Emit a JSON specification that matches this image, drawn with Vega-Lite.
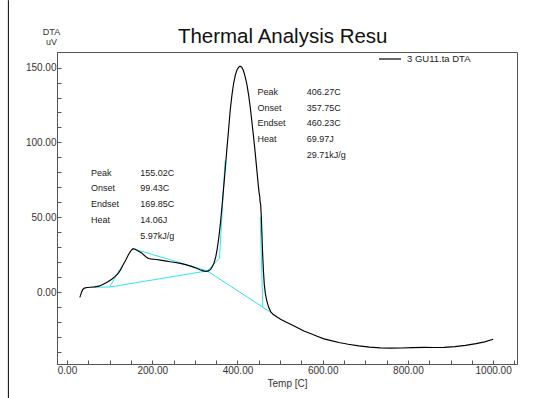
{
  "$schema": "https://vega.github.io/schema/vega-lite/v6.json",
  "width": 460,
  "height": 312,
  "autosize": {"type": "none"},
  "padding": {"left": 57, "top": 52, "right": 41, "bottom": 34},
  "background": "white",
  "config": {"view": {"stroke": "#555", "strokeWidth": 1}, "font": "Liberation Sans"},
  "title": {"text": "Thermal Analysis Resu", "anchor": "start", "dx": 170, "offset": -64, "fontSize": 20.5, "fontWeight": "normal", "font": "Liberation Sans", "color": "#111", "baseline": "alphabetic"},
  "datasets": {
    "curve": [
      {"t":30,"v":-3.5},{"t":32,"v":-2},{"t":34,"v":0},{"t":37,"v":1.8},{"t":41,"v":2.7},{"t":47,"v":3.1},{"t":55,"v":3.3},{"t":65,"v":3.5},{"t":75,"v":4},{"t":85,"v":5.3},{"t":95,"v":6.8},{"t":105,"v":8.6},{"t":113,"v":10.5},{"t":120,"v":12.5},{"t":126,"v":15},{"t":132,"v":18.5},{"t":138,"v":21.5},{"t":144,"v":25},{"t":150,"v":27.7},{"t":155,"v":29},{"t":160,"v":28.7},{"t":165,"v":27.8},{"t":170,"v":27},{"t":176,"v":26},{"t":181,"v":24.6},{"t":186,"v":23.4},{"t":191,"v":22.5},{"t":197,"v":22.2},{"t":203,"v":22},{"t":210,"v":21.8},{"t":219,"v":21.4},{"t":230,"v":20.9},{"t":242,"v":20.3},{"t":254,"v":19.8},{"t":266,"v":19.2},{"t":278,"v":18.4},{"t":290,"v":17.4},{"t":300,"v":16.4},{"t":312,"v":15},{"t":320,"v":14.2},{"t":326,"v":13.8},{"t":332,"v":14.2},{"t":337,"v":15.2},{"t":341,"v":17},{"t":345,"v":19.5},{"t":349,"v":23.5},{"t":352,"v":28},{"t":356,"v":36},{"t":360,"v":46},{"t":364,"v":58},{"t":367,"v":68},{"t":371,"v":81},{"t":375,"v":95},{"t":379,"v":108},{"t":383,"v":121.5},{"t":387,"v":131.5},{"t":391,"v":139.5},{"t":395,"v":145},{"t":399,"v":148.5},{"t":403,"v":150.3},{"t":406,"v":150.9},{"t":410,"v":150.2},{"t":414,"v":148},{"t":418,"v":144},{"t":422,"v":139},{"t":426,"v":132},{"t":430,"v":123.5},{"t":434,"v":113.5},{"t":438,"v":103},{"t":442,"v":92},{"t":446,"v":80},{"t":449,"v":71},{"t":451,"v":66},{"t":452.5,"v":63.5},{"t":453,"v":60.5},{"t":454.5,"v":58.5},{"t":456,"v":50},{"t":457.5,"v":38},{"t":459,"v":26},{"t":461,"v":14},{"t":463,"v":5},{"t":465.5,"v":-1},{"t":469,"v":-6},{"t":473,"v":-10},{"t":478,"v":-13},{"t":484,"v":-15},{"t":492,"v":-16.5},{"t":502,"v":-18.2},{"t":514,"v":-20},{"t":527,"v":-21.8},{"t":541,"v":-23.8},{"t":556,"v":-25.9},{"t":571,"v":-27.6},{"t":587,"v":-29.5},{"t":603,"v":-31.2},{"t":620,"v":-32.4},{"t":638,"v":-33.6},{"t":660,"v":-34.8},{"t":685,"v":-35.9},{"t":710,"v":-36.7},{"t":735,"v":-37.2},{"t":760,"v":-37.4},{"t":785,"v":-37.3},{"t":810,"v":-37.1},{"t":840,"v":-36.9},{"t":860,"v":-37},{"t":885,"v":-36.9},{"t":910,"v":-36.4},{"t":935,"v":-35.6},{"t":960,"v":-34.4},{"t":980,"v":-33.2},{"t":1000,"v":-31.5}
    ],
    "cyan": [
      {"seg":1,"o":1,"t":62,"v":3.3},{"seg":1,"o":2,"t":100,"v":3.4},
      {"seg":2,"o":1,"t":100,"v":3.4},{"seg":2,"o":2,"t":129,"v":17.5},
      {"seg":3,"o":1,"t":100,"v":3.4},{"seg":3,"o":2,"t":329,"v":14.2},
      {"seg":4,"o":1,"t":155,"v":29},{"seg":4,"o":2,"t":329,"v":14.2},
      {"seg":5,"o":1,"t":329,"v":14.2},{"seg":5,"o":2,"t":357.8,"v":22.7},{"seg":5,"o":3,"t":371,"v":88},
      {"seg":6,"o":1,"t":329,"v":14.2},{"seg":6,"o":2,"t":480.6,"v":-14},
      {"seg":7,"o":1,"t":459.5,"v":-10.1},{"seg":7,"o":2,"t":453.3,"v":50.4}
    ],
    "notes": [
      {"t":56.3,"v":79.7,"label":"Peak"},{"t":171.9,"v":79.7,"label":"155.02C"},
      {"t":56.3,"v":69.3,"label":"Onset"},{"t":171.9,"v":69.3,"label":"99.43C"},
      {"t":56.3,"v":58.7,"label":"Endset"},{"t":171.9,"v":58.7,"label":"169.85C"},
      {"t":56.3,"v":48.2,"label":"Heat"},{"t":171.9,"v":48.2,"label":"14.06J"},
      {"t":171.9,"v":37.5,"label":"5.97kJ/g"},
      {"t":446.9,"v":133.7,"label":"Peak"},{"t":562.7,"v":133.7,"label":"406.27C"},
      {"t":446.9,"v":123.3,"label":"Onset"},{"t":562.7,"v":123.3,"label":"357.75C"},
      {"t":446.9,"v":112.7,"label":"Endset"},{"t":562.7,"v":112.7,"label":"460.23C"},
      {"t":446.9,"v":102.2,"label":"Heat"},{"t":562.7,"v":102.2,"label":"69.97J"},
      {"t":562.7,"v":91.5,"label":"29.71kJ/g"}
    ],
    "border": [{"t": -137.6, "v": 195, "v2": -71}]
  },
  "encoding": {
    "x": {
      "field": "t", "type": "quantitative",
      "scale": {"domain": [-23.5, 1056], "nice": false, "zero": false},
      "axis": {
        "title": "Temp [C]",
        "values": [0,50,100,150,200,250,300,350,400,450,500,550,600,650,700,750,800,850,900,950,1000,1050],
        "labelExpr": "datum.value % 200 == 0 ? format(datum.value, '.2f') : ''",
        "tickSize": -4, "labelPadding": 5, "labelOverlap": false, "labelFlush": false,
        "domainColor": "#555", "tickColor": "#555", "labelColor": "#333", "labelFontSize": 10,
        "titleFontSize": 10, "titleFontWeight": "normal", "titleColor": "#333", "titlePadding": 3, "grid": false
      }
    },
    "y": {
      "field": "v", "type": "quantitative",
      "scale": {"domain": [-48, 160.4], "nice": false, "zero": false},
      "axis": {
        "title": ["DTA", "uV"], "titleAngle": 0, "titleAlign": "center", "titleBaseline": "middle",
        "titleX": -6, "titleY": -21, "titleFontSize": 9, "titleFontWeight": "normal", "titleLineHeight": 10, "titleColor": "#333",
        "values": [-40,-30,-20,-10,0,10,20,30,40,50,60,70,80,90,100,110,120,130,140,150],
        "labelExpr": "datum.value % 50 == 0 ? format(datum.value, '.2f') : ''",
        "tickSize": -4, "labelPadding": 5, "labelOverlap": false, "labelFlush": false,
        "domainColor": "#555", "tickColor": "#555", "labelColor": "#333", "labelFontSize": 10, "grid": false
      }
    }
  },
  "layer": [
    {
      "data": {"name": "border"},
      "mark": {"type": "rule", "color": "#000", "strokeWidth": 1},
      "encoding": {
        "y2": {"field": "v2"}
      }
    },
    {
      "data": {"name": "cyan"},
      "mark": {"type": "line", "color": "#2ee6ee", "strokeWidth": 1},
      "encoding": {"detail": {"field": "seg"}, "order": {"field": "o"}}
    },
    {
      "data": {"name": "curve"},
      "transform": [{"calculate": "'3 GU11.ta DTA'", "as": "series"}],
      "mark": {"type": "line", "strokeWidth": 1.15},
      "encoding": {
        "color": {
          "field": "series", "type": "nominal",
          "scale": {"domain": ["3 GU11.ta DTA"], "range": ["#000000"]},
          "legend": {"orient": "none", "legendX": 321, "legendY": -5, "title": null, "symbolType": "stroke", "symbolSize": 484, "symbolStrokeWidth": 1.2, "labelFontSize": 9.5, "labelColor": "#222", "padding": 0, "labelOffset": 5}
        }
      }
    },
    {
      "data": {"name": "notes"},
      "mark": {"type": "text", "align": "left", "baseline": "middle", "fontSize": 9, "color": "#222"},
      "encoding": {"text": {"field": "label"}}
    }
  ]
}
